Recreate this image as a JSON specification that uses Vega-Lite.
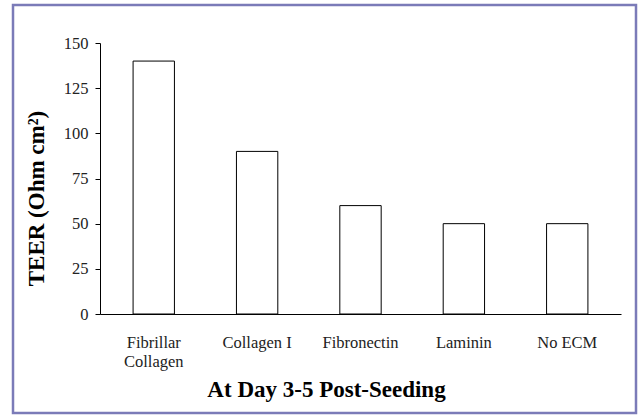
{
  "$schema": "https://vega.github.io/schema/vega-lite/v6.json",
  "autosize": "none",
  "width": 623,
  "height": 408,
  "padding": {"left": 13, "top": 5, "right": 4, "bottom": 2},
  "background": "white",
  "config": {
    "view": {"stroke": "#7b7bb8", "strokeWidth": 2.5},
    "font": "Liberation Serif"
  },
  "data": {
    "values": [
      {"matrix": "Fibrillar Collagen", "teer": 140},
      {"matrix": "Collagen I", "teer": 90},
      {"matrix": "Fibronectin", "teer": 60},
      {"matrix": "Laminin", "teer": 50},
      {"matrix": "No ECM", "teer": 50}
    ]
  },
  "mark": {"type": "bar", "fill": "white", "stroke": "black", "strokeWidth": 1},
  "encoding": {
    "x": {
      "field": "matrix",
      "type": "nominal",
      "sort": null,
      "scale": {"range": [87, 608], "paddingInner": 0.6, "paddingOuter": 0.32},
      "axis": {
        "orient": "bottom",
        "offset": -99,
        "title": "At Day 3-5 Post-Seeding",
        "titleFont": "Liberation Serif",
        "titleFontSize": 23,
        "titleFontWeight": "bold",
        "titleColor": "black",
        "titleX": 313,
        "titleY": 75,
        "titleBaseline": "middle",
        "labelAngle": 0,
        "labelFont": "Liberation Serif",
        "labelFontSize": 16.5,
        "labelColor": "#222",
        "labelPadding": 20,
        "labelLineHeight": 19,
        "labelExpr": "datum.label == 'Fibrillar Collagen' ? ['Fibrillar', 'Collagen'] : datum.label",
        "ticks": false,
        "domainColor": "black",
        "domainWidth": 1
      }
    },
    "y": {
      "field": "teer",
      "type": "quantitative",
      "scale": {"domain": [0, 150], "range": [309, 38], "nice": false},
      "axis": {
        "orient": "left",
        "offset": -87,
        "values": [0, 25, 50, 75, 100, 125, 150],
        "grid": false,
        "title": "TEER (Ohm cm²)",
        "titleFont": "Liberation Serif",
        "titleFontSize": 23,
        "titleFontWeight": "bold",
        "titleColor": "black",
        "titleX": -64,
        "titleY": 193,
        "titleBaseline": "middle",
        "labelFont": "Liberation Serif",
        "labelFontSize": 16.5,
        "labelColor": "#222",
        "labelPadding": 7,
        "tickSize": 5,
        "tickColor": "black",
        "domainColor": "black",
        "domainWidth": 1
      }
    }
  }
}
